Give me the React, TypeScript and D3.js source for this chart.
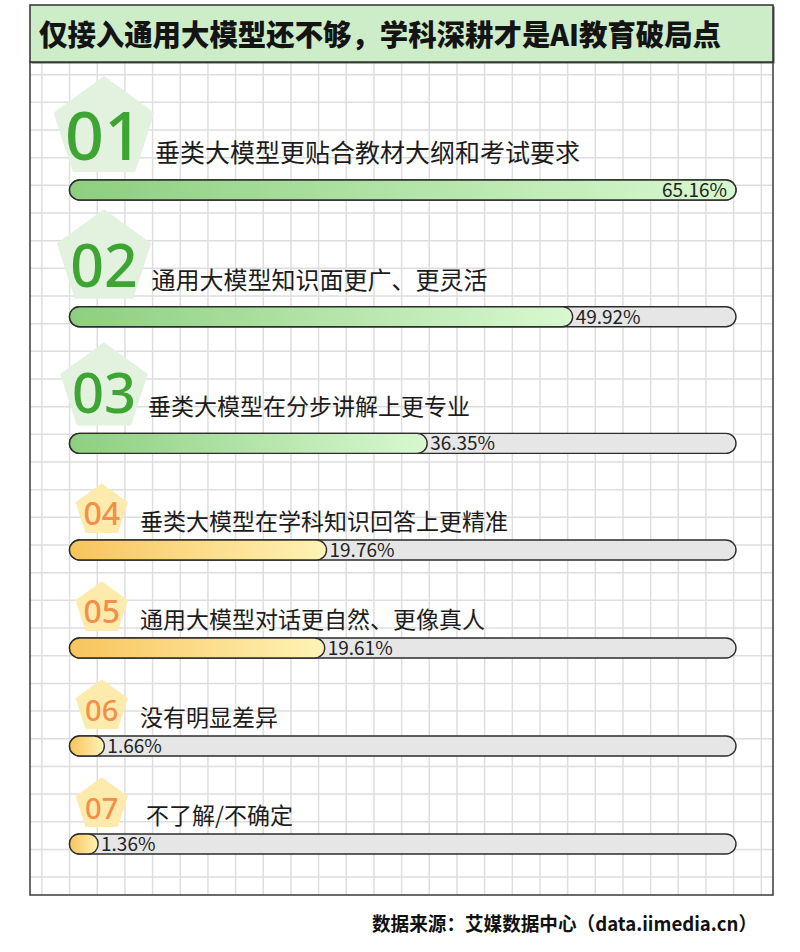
import React from 'react';
import * as d3 from 'd3';

const title = '仅接入通用大模型还不够，学科深耕才是AI教育破局点';
const source = '数据来源：艾媒数据中心（data.iimedia.cn）';
const categories = [
  '垂类大模型更贴合教材大纲和考试要求',
  '通用大模型知识面更广、更灵活',
  '垂类大模型在分步讲解上更专业',
  '垂类大模型在学科知识回答上更精准',
  '通用大模型对话更自然、更像真人',
  '没有明显差异',
  '不了解/不确定',
];
const values = [65.16, 49.92, 36.35, 19.76, 19.61, 1.66, 1.36];
const rankLabels = ['01', '02', '03', '04', '05', '06', '07'];
const majorCount = 3;

// the infographic's bar lengths follow a piecewise (non-linear) axis
const axisBreaks = [0, 2, 20, 36];
const axisBreakShares = [0, 0.063, 0.39, 0.531];

const W = 800;
const H = 952;
const panel = { x: 30, y: 62, w: 743, h: 833 };
const titleBox = { x: 30, y: 5, w: 743, h: 57 };
const trackX0 = 69.5;
const trackX1 = 736;
const barH = 20;
const gridStep = 27.67;

const cjk = '"Noto Sans CJK SC", "Noto Sans", sans-serif';
const latin = '"Noto Sans", "Noto Sans CJK SC", sans-serif';

function barTop(i: number) {
  return i < majorCount ? 180 + 126.7 * i : 540 + 98 * (i - majorCount);
}

function pentagon(cx: number, cy: number, r: number) {
  const pts: [number, number][] = d3.range(5).map((k) => {
    const a = -Math.PI / 2 + (k * 2 * Math.PI) / 5;
    return [cx + r * Math.cos(a), cy + r * Math.sin(a)];
  });
  return (d3.line()(pts) || '') + 'Z';
}

export default function App() {
  const maxV = d3.max(values) as number;
  const share = d3
    .scaleLinear()
    .domain([...axisBreaks, maxV])
    .range([...axisBreakShares, 1]);
  const xScale = (v: number) => trackX0 + share(v) * (trackX1 - trackX0);

  const vLines = d3.range(41.9, panel.x + panel.w, gridStep).filter((x) => x > panel.x && x < panel.x + panel.w);
  const hLines = d3.range(19.3, panel.y + panel.h, gridStep).filter((y) => y > panel.y && y < panel.y + panel.h);

  return (
    <div style={{ position: 'absolute', left: 0, top: 0 }}>
      <svg width={W} height={H} viewBox={`0 0 ${W} ${H}`} style={{ display: 'block', background: '#fff' }}>
        <defs>
          <linearGradient id="gGreen" x1="0" x2="1" y1="0" y2="0">
            <stop offset="0" stopColor="#8dcf7f" />
            <stop offset="1" stopColor="#d8f8d0" />
          </linearGradient>
          <linearGradient id="gOrange" x1="0" x2="1" y1="0" y2="0">
            <stop offset="0" stopColor="#f8c45c" />
            <stop offset="1" stopColor="#fff3b6" />
          </linearGradient>
          <clipPath id="panelClip">
            <rect x={panel.x} y={panel.y} width={panel.w} height={panel.h} />
          </clipPath>
        </defs>

        {/* panel */}
        <rect x={panel.x} y={panel.y} width={panel.w} height={panel.h} fill="#fff" />
        <g clipPath="url(#panelClip)" stroke="#dedede" strokeWidth={1.5}>
          {vLines.map((x, i) => (
            <line key={'v' + i} x1={x} x2={x} y1={panel.y} y2={panel.y + panel.h} />
          ))}
          {hLines.map((y, i) => (
            <line key={'h' + i} x1={panel.x} x2={panel.x + panel.w} y1={y} y2={y} />
          ))}
        </g>
        <rect x={panel.x} y={panel.y} width={panel.w} height={panel.h} fill="none" stroke="#3a3a3a" strokeWidth={1.5} />

        {/* title */}
        <rect x={titleBox.x + 1.5} y={titleBox.y + 1.5} width={titleBox.w} height={titleBox.h} fill="#555" />
        <rect x={titleBox.x} y={titleBox.y} width={titleBox.w} height={titleBox.h} fill="#cdedc9" stroke="#2f2f2f" strokeWidth={1.5} />
        <text
          x={39}
          y={45.5}
          fontFamily={cjk}
          fontWeight={900}
          fontSize={29}
          fill="#141414"
          textLength={682}
          lengthAdjust="spacingAndGlyphs"
        >
          {title}
        </text>

        {/* rows */}
        {categories.map((cat, i) => {
          const major = i < majorCount;
          const top = barTop(i);
          const r = major ? 53 - 3.5 * i : 27.5;
          const cx = major ? 104 : 101.7;
          const cy = top - 0.809 * r - (major ? 8 : 7);
          const numSize = major ? [68, 59, 56][i] : i < 5 ? 32 : 29;
          const numBase = top - (major ? 20 : 15.5);
          const labelSize = major ? [25, 24, 23][i] : 23;
          const labelX = major ? cx + r - 2 : i === categories.length - 1 ? 146 : 140;
          const labelBase = top - (major ? 18 : 10.5);
          const xEnd = xScale(values[i]);
          const fw = xEnd - trackX0;
          const inside = values[i] === maxV;
          return (
            <g key={i}>
              <path d={pentagon(cx, cy, r)} fill={major ? '#e3f2de' : '#fdebae'} />
              <text
                x={cx}
                y={numBase}
                textAnchor="middle"
                fontFamily={latin}
                fontWeight={500}
                fontSize={numSize}
                fill={major ? '#3ea535' : '#f38f49'}
              >
                {rankLabels[i]}
              </text>
              <text x={labelX} y={labelBase} fontFamily={cjk} fontSize={labelSize} fill="#1c1c1c">
                {cat}
              </text>
              <rect
                x={trackX0}
                y={top}
                width={trackX1 - trackX0}
                height={barH}
                rx={barH / 2}
                fill="#e6e6e6"
                stroke="#2d2d2d"
                strokeWidth={1.4}
              />
              <rect
                x={trackX0}
                y={top}
                width={fw}
                height={barH}
                rx={Math.min(barH / 2, fw / 3)}
                fill={major ? 'url(#gGreen)' : 'url(#gOrange)'}
                stroke="#2d2d2d"
                strokeWidth={1.4}
              />
              <text
                x={inside ? trackX1 - 9 : xEnd + 3}
                y={top + barH / 2 + 6.8}
                textAnchor={inside ? 'end' : 'start'}
                fontFamily={cjk}
                fontSize={19}
                fill="#222"
              >
                {values[i].toFixed(2) + '%'}
              </text>
            </g>
          );
        })}

        <text
          x={757}
          y={931}
          textAnchor="end"
          fontFamily={cjk}
          fontWeight={700}
          fontSize={19}
          fill="#111"
          textLength={385}
          lengthAdjust="spacingAndGlyphs"
        >
          {source}
        </text>
      </svg>
    </div>
  );
}
